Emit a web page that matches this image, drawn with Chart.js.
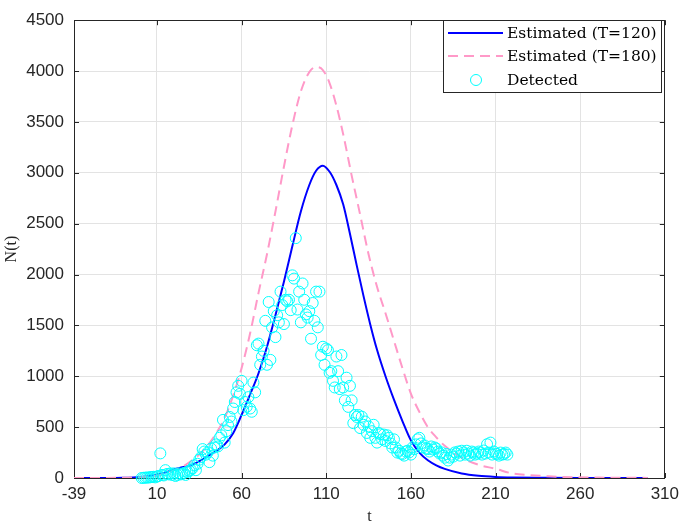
<!DOCTYPE html>
<html>
<head>
<meta charset="utf-8">
<script src="https://cdn.jsdelivr.net/npm/chart.js@4.4.0/dist/chart.umd.min.js"></script>
<style>
  html, body { margin: 0; padding: 0; background: #fff; }
  #wrap { width: 685px; height: 526px; }
</style>
</head>
<body>
<div id="wrap"><canvas id="nChart" width="685" height="526"></canvas></div>
<script>
// axis ticks
const xTickLabels = [-39, 10, 60, 110, 160, 210, 260, 310];
const yTickLabels = [0, 500, 1000, 1500, 2000, 2500, 3000, 3500, 4000, 4500];

// estimated curve, T=120
const fitT120 = [-39, -20, -10, 0, 5, 10, 15, 20, 25, 30, 35, 40, 45, 50, 55, 60, 65, 70, 75, 80, 85, 90, 95, 100, 104, 108, 112, 116, 120, 124, 128, 132, 136, 140, 145, 150, 155, 160, 165, 170, 175, 180, 190, 200, 210, 220, 240, 260, 300];
const fitN120 = [0, 0, 2, 10, 20, 33, 55, 85, 105, 125, 165, 215, 265, 330, 440, 620, 820, 1030, 1290, 1600, 1930, 2280, 2620, 2880, 3020, 3070, 3010, 2880, 2690, 2400, 2090, 1790, 1510, 1260, 1000, 770, 560, 370, 250, 175, 125, 90, 45, 22, 11, 6, 2, 0, 0];

// estimated curve, T=180
const fitT180 = [-39, -20, -10, 0, 10, 15, 20, 25, 30, 35, 40, 45, 50, 55, 60, 65, 70, 75, 80, 85, 90, 95, 100, 104, 108, 112, 116, 120, 125, 130, 135, 140, 145, 150, 155, 160, 165, 170, 175, 180, 190, 200, 210, 220, 230, 240, 250, 270, 300];
const fitN180 = [0, 1, 3, 8, 25, 45, 75, 110, 165, 230, 320, 440, 590, 810, 1080, 1420, 1820, 2200, 2620, 3060, 3470, 3800, 3990, 4040, 4010, 3880, 3660, 3380, 2975, 2590, 2200, 1880, 1620, 1350, 1080, 830, 650, 500, 400, 316, 200, 130, 90, 45, 28, 18, 10, 4, 1];

// detected counts, one per day starting at t = 1
const detectedFirstDay = 1;
const detectedN = [
  0, 2, 3, 5, 4, 8, 10, 12, 6, 15,
  20, 242, 30, 25, 77, 40, 35, 45, 30, 45,
  20, 30, 45, 35, 40, 50, 30, 60, 70, 80,
  95, 124, 77, 140, 180, 204, 284, 260, 230, 252,
  156, 290, 220, 300, 330, 310, 395, 420, 571, 348,
  460, 520, 600, 555, 683, 747, 842, 906, 827, 955,
  667, 747, 700, 795, 683, 651, 938, 842, 1305, 1321,
  1113, 1194, 1250, 1545, 1113, 1730, 1161, 1480, 1640, 1385,
  1600, 1530, 1832, 1700, 1513, 1752, 1736, 1752, 1650, 1992,
  1960, 2358, 1656, 1832, 1530, 1912, 1752, 1608, 1577, 1640,
  1369, 1720, 1545, 1832, 1481, 1832, 1209, 1290, 1113, 1273,
  1257, 1034, 1050, 955, 890, 1194, 1050, 874, 1209, 890,
  763, 986, 699, 906, 763, 539, 619, 600, 619, 491,
  603, 523, 555, 443, 507, 395, 460, 523, 395, 348,
  443, 430, 380, 427, 364, 420, 395, 340, 300, 380,
  300, 250, 268, 240, 236, 220, 260, 268, 252, 230,
  300, 284, 330, 380, 395, 340, 300, 320, 290, 284,
  260, 310, 280, 300, 290, 260, 240, 252, 220, 200,
  236, 172, 200, 230, 210, 252, 240, 260, 220, 268,
  250, 230, 268, 240, 220, 260, 250, 230, 240, 260,
  250, 230, 270, 240, 332, 250, 348, 230, 260, 240,
  236, 220, 250, 230, 236, 250, 230
];

const seriesNames = ['Estimated (T=120)', 'Estimated (T=180)', 'Detected'];

const toPoints = (xs, ys) => xs.map((x, i) => ({ x: x, y: ys[i] }));
const detectedPoints = detectedN.map((n, i) => ({ x: detectedFirstDay + i, y: n }));

const axisColor = '#262626';
const gridColor = '#e3e3e3';
const legendFont = '15.5px "DejaVu Serif"';

// box and inward tick marks like the original
const boxPlugin = {
  id: 'boxPlugin',
  beforeDatasetsDraw(chart) {
    const { ctx, chartArea: a, scales } = chart;
    ctx.save();
    ctx.strokeStyle = axisColor;
    ctx.lineWidth = 1;
    ctx.beginPath();
    xTickLabels.forEach(v => {
      const px = Math.round(scales.x.getPixelForValue(v)) + 0.5;
      ctx.moveTo(px, a.bottom); ctx.lineTo(px, a.bottom - 5);
      ctx.moveTo(px, a.top); ctx.lineTo(px, a.top + 5);
    });
    yTickLabels.forEach(v => {
      const py = Math.round(scales.y.getPixelForValue(v)) + 0.5;
      ctx.moveTo(a.left, py); ctx.lineTo(a.left + 5, py);
      ctx.moveTo(a.right, py); ctx.lineTo(a.right - 5, py);
    });
    ctx.stroke();
    ctx.strokeRect(Math.round(a.left) + 0.5, Math.round(a.top) + 0.5,
      Math.round(a.right - a.left) - 1, Math.round(a.bottom - a.top));
    ctx.restore();
  }
};

// legend box in the top right corner
const legendPlugin = {
  id: 'legendPlugin',
  afterDraw(chart) {
    const { ctx, chartArea: a } = chart;
    const ds = chart.data.datasets;
    const bx = 443, by = Math.round(a.top), bw = Math.round(a.right) - 4 - bx, bh = 72;
    ctx.save();
    ctx.fillStyle = '#fff';
    ctx.fillRect(bx, by, bw, bh);
    ctx.strokeStyle = axisColor;
    ctx.lineWidth = 1;
    ctx.strokeRect(bx + 0.5, by + 0.5, bw, bh);
    const rows = [by + 13, by + 36, by + 60];
    ds.forEach((d, i) => {
      const y = rows[i];
      if (i < 2) {
        ctx.strokeStyle = d.borderColor;
        ctx.lineWidth = d.borderWidth;
        ctx.setLineDash(d.borderDash || []);
        ctx.beginPath();
        ctx.moveTo(448, y); ctx.lineTo(503, y);
        ctx.stroke();
        ctx.setLineDash([]);
      } else {
        ctx.strokeStyle = d.borderColor;
        ctx.lineWidth = 1;
        ctx.beginPath();
        ctx.arc(476, y, d.pointRadius, 0, Math.PI * 2);
        ctx.stroke();
      }
      ctx.fillStyle = '#000';
      ctx.font = legendFont;
      ctx.textBaseline = 'middle';
      ctx.fillText(d.label, 507, y + 1);
    });
    ctx.restore();
  }
};

const nChart = new Chart('nChart', {
  type: 'scatter',
  data: {
    datasets: [
      {
        label: seriesNames[0],
        data: toPoints(fitT120, fitN120),
        showLine: true,
        borderColor: '#0000ff',
        borderWidth: 2,
        pointRadius: 0,
        cubicInterpolationMode: 'monotone',
        order: 3
      },
      {
        label: seriesNames[1],
        data: toPoints(fitT180, fitN180),
        showLine: true,
        borderColor: '#ff99c8',
        borderWidth: 2,
        borderDash: [10, 6],
        pointRadius: 0,
        cubicInterpolationMode: 'monotone',
        order: 2
      },
      {
        label: seriesNames[2],
        data: detectedPoints,
        showLine: false,
        borderColor: '#00ffff',
        backgroundColor: 'rgba(0,0,0,0)',
        borderWidth: 1,
        pointRadius: 5.5,
        pointHoverRadius: 5.5,
        clip: false,
        order: 1
      }
    ]
  },
  options: {
    responsive: false,
    animation: false,
    devicePixelRatio: 1,
    layout: { padding: { left: 0, right: 12, top: 8, bottom: 0 } },
    plugins: {
      legend: { display: false },
      tooltip: { enabled: false }
    },
    scales: {
      x: {
        type: 'linear',
        min: -39,
        max: 310,
        afterBuildTicks: (scale) => { scale.ticks = xTickLabels.map(v => ({ value: v })); },
        afterFit: (scale) => { scale.height = 48; },
        grid: { color: gridColor, drawTicks: false },
        border: { display: false },
        ticks: {
          padding: 6,
          color: axisColor,
          font: { family: '"Liberation Sans", Arial, sans-serif', size: 17 },
          maxRotation: 0,
          autoSkip: false,
          callback: (v) => String(v)
        },
        title: {
          display: true,
          text: 't',
          color: axisColor,
          font: { family: '"Liberation Serif", serif', size: 16 },
          padding: { top: 0, bottom: 0 }
        }
      },
      y: {
        type: 'linear',
        min: 0,
        max: 4500,
        afterBuildTicks: (scale) => { scale.ticks = yTickLabels.map(v => ({ value: v })); },
        afterFit: (scale) => { scale.width = 74; },
        grid: { color: gridColor, drawTicks: false },
        border: { display: false },
        ticks: {
          padding: 10,
          color: axisColor,
          font: { family: '"Liberation Sans", Arial, sans-serif', size: 17 },
          callback: (v) => String(v)
        },
        title: {
          display: true,
          text: 'N(t)',
          color: axisColor,
          font: { family: '"Liberation Serif", serif', size: 16 },
          padding: { top: 2, bottom: 0 }
        }
      }
    }
  },
  plugins: [boxPlugin, legendPlugin]
});
</script>
</body>
</html>
